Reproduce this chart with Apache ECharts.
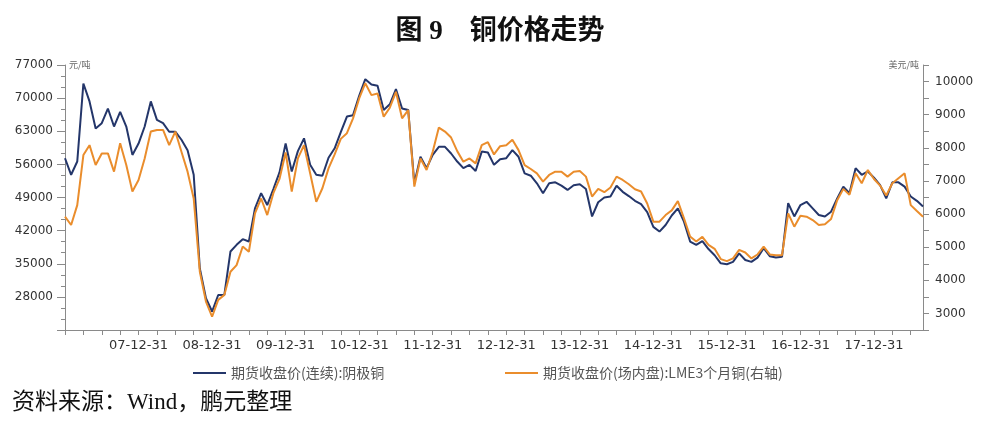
<!DOCTYPE html>
<html>
<head>
<meta charset="utf-8">
<script src="https://cdn.jsdelivr.net/npm/echarts@6/dist/echarts.min.js"></script>
<style>
  html, body { margin: 0; padding: 0; background: #fff; }
  #chart { width: 1000px; height: 424px; }
</style>
</head>
<body>
<div id="chart"></div>
<script>
// monthly categories, 2006-12 .. 2018-08
const startYear = 2006;
const startMonth = 12;
const monthCount = 141;
const months = [];
for (let i = 0; i < monthCount; i++) {
  const m = (startMonth - 1 + i) % 12 + 1;
  const y = startYear + Math.floor((startMonth - 1 + i) / 12);
  months.push(y + '-' + String(m).padStart(2, '0'));
}

const tickLabels = ['07-12-31', '08-12-31', '09-12-31', '10-12-31', '11-12-31', '12-12-31',
  '13-12-31', '14-12-31', '15-12-31', '16-12-31', '17-12-31'];

// 期货收盘价(连续):阴极铜, 元/吨 (left axis)
const shfeCopper = [
  57300, 53800, 56600, 73100, 69300, 63600, 64700, 67800, 64000, 67100, 64000, 58000,
  60400, 64000, 69300, 65400, 64700, 62900, 62900, 61200, 59000, 53800, 34000, 27700,
  24900, 28400, 28400, 37600, 39000, 40200, 39700, 46700, 49900, 47400, 50800, 54300,
  60400, 54500, 58800, 61500, 55900, 53800, 53600, 57400, 59400, 62800, 66100, 66400,
  70500, 74000, 72900, 72600, 67500, 68700, 71900, 67800, 67500, 52000, 57600, 55200,
  58000, 59700, 59700, 58300, 56600, 55200, 55900, 54600, 58700, 58500, 55900, 57100,
  57300, 59000, 57600, 54100, 53600, 52000, 49900, 52000, 52200, 51500, 50600, 51600,
  51800, 50800, 45000, 48000, 49000, 49200, 51500, 50200, 49300, 48300, 47600, 45900,
  42800, 41800, 43200, 45200, 46700, 43900, 39700, 39000, 39800, 38100, 36800, 35100,
  34900, 35400, 37200, 35800, 35400, 36300, 38300, 36600, 36300, 36500, 47800, 45000,
  47400, 48100, 46700, 45300, 45000, 46000, 48800, 51300, 49900, 55200, 53800, 54500,
  53200, 51600, 48800, 52200, 52200, 51300, 49200, 48300, 47100
];

// 期货收盘价(场内盘):LME3个月铜, 美元/吨 (right axis)
const lmeCopper = [
  5920, 5670, 6270, 7780, 8080, 7480, 7830, 7830, 7280, 8140, 7480, 6680,
  7030, 7680, 8490, 8540, 8540, 8080, 8490, 7880, 7280, 6470, 4260, 3360,
  2900, 3410, 3560, 4260, 4460, 5020, 4860, 6020, 6470, 5970, 6630, 7060,
  7860, 6680, 7680, 8080, 7230, 6370, 6780, 7380, 7800, 8270, 8440, 8890,
  9490, 9950, 9590, 9640, 8940, 9210, 9690, 8890, 9140, 6830, 7680, 7330,
  7880, 8610, 8490, 8310, 7900, 7580, 7680, 7530, 8080, 8170, 7800, 8050,
  8080, 8240, 7930, 7480, 7360, 7230, 6980, 7180, 7280, 7280, 7130, 7280,
  7300, 7130, 6530, 6760, 6660, 6800, 7130, 7030, 6900, 6750, 6680, 6320,
  5770, 5770, 5970, 6110, 6390, 5870, 5320, 5170, 5310, 5070, 4950, 4640,
  4580, 4660, 4920, 4840, 4660, 4780, 5020, 4780, 4760, 4760, 6020, 5620,
  5950, 5920, 5820, 5670, 5690, 5850, 6420, 6760, 6580, 7230, 6930, 7330,
  7060, 6860, 6560, 6930, 7080, 7230, 6270, 6090, 5920
];

const seriesNames = ['期货收盘价(连续):阴极铜', '期货收盘价(场内盘):LME3个月铜(右轴)'];
const blue = '#24366a';
const orange = '#ea8d2c';
const axisGray = '#8a8a8a';
const labelFont = 'DejaVu Sans';
const cjkSerif = "'Liberation Serif', 'Noto Sans CJK SC'";

const myChart = echarts.init(document.getElementById('chart'), null, { renderer: 'canvas' });

myChart.setOption({
  animation: false,
  backgroundColor: '#fff',
  title: {
    text: '图 9    铜价格走势',
    left: 'center',
    top: 14,
    textStyle: {
      fontFamily: cjkSerif,
      fontSize: 27,
      fontWeight: 'bold',
      color: '#111',
    },
  },
  graphic: [
    {
      type: 'text',
      left: 12,
      top: 391,
      style: {
        text: '资料来源：Wind，鹏元整理',
        fontFamily: cjkSerif,
        fontSize: 23,
        fill: '#111',
      },
    },
  ],
  legend: [
    {
      data: [seriesNames[0]],
      left: 188,
      top: 361,
      icon: 'rect',
      itemWidth: 33,
      itemHeight: 2,
      itemGap: 4,
      textStyle: { fontSize: 14, color: '#555', fontFamily: 'Noto Sans CJK SC' },
    },
    {
      data: [seriesNames[1]],
      left: 500,
      top: 361,
      icon: 'rect',
      itemWidth: 33,
      itemHeight: 2,
      textStyle: { fontSize: 14, color: '#555', fontFamily: 'Noto Sans CJK SC' },
    },
  ],
  grid: {
    left: 65,
    right: 77,
    top: 65,
    bottom: 94,
  },
  xAxis: {
    type: 'category',
    boundaryGap: false,
    data: months,
    axisLine: { onZero: false, lineStyle: { color: axisGray } },
    axisTick: {
      length: 5,
      interval: (index, value) => Number(value.slice(5)) % 3 === 0,
      lineStyle: { color: axisGray },
    },
    axisLabel: {
      interval: (index, value) => value.slice(5) === '12',
      formatter: (value) => tickLabels[Number(value.slice(0, 4)) - 2007],
      fontFamily: labelFont,
      fontSize: 13,
      color: '#333',
      margin: 9,
    },
    splitLine: { show: false },
  },
  yAxis: [
    {
      type: 'value',
      min: 21000,
      max: 77000,
      interval: 7000,
      name: '元/吨',
      nameLocation: 'end',
      nameGap: 0,
      nameTextStyle: {
        align: 'left',
        verticalAlign: 'middle',
        padding: [0, 0, 0, 4],
        fontSize: 9,
        color: '#666',
        fontFamily: 'Noto Sans CJK SC',
      },
      axisLine: { show: true, lineStyle: { color: axisGray } },
      axisTick: { show: true, length: 8, lineStyle: { color: axisGray } },
      minorTick: { show: true, splitNumber: 3, length: 4, lineStyle: { color: axisGray } },
      axisLabel: {
        formatter: (v) => (v === 21000 ? '' : String(v)),
        fontFamily: labelFont,
        fontSize: 12,
        color: '#333',
        margin: 12,
      },
      splitLine: { show: false },
      minorSplitLine: { show: false },
    },
    {
      type: 'value',
      position: 'right',
      min: 2500,
      max: 10500,
      interval: 500,
      name: '美元/吨',
      nameLocation: 'end',
      nameGap: 0,
      nameTextStyle: {
        align: 'right',
        verticalAlign: 'middle',
        padding: [0, 4, 0, 0],
        fontSize: 9,
        color: '#666',
        fontFamily: 'Noto Sans CJK SC',
      },
      axisLine: { show: true, lineStyle: { color: axisGray } },
      axisTick: { show: true, length: 6, lineStyle: { color: axisGray } },
      axisLabel: {
        formatter: (v) => (v % 1000 === 0 ? String(v) : ''),
        fontFamily: labelFont,
        fontSize: 12,
        color: '#333',
        margin: 12,
      },
      splitLine: { show: false },
    },
  ],
  series: [
    {
      name: seriesNames[0],
      type: 'line',
      yAxisIndex: 0,
      data: shfeCopper,
      symbol: 'none',
      smooth: false,
      itemStyle: { color: blue },
      lineStyle: { color: blue, width: 2 },
    },
    {
      name: seriesNames[1],
      type: 'line',
      yAxisIndex: 1,
      data: lmeCopper,
      symbol: 'none',
      smooth: false,
      itemStyle: { color: orange },
      lineStyle: { color: orange, width: 2 },
    },
  ],
});
</script>
</body>
</html>
